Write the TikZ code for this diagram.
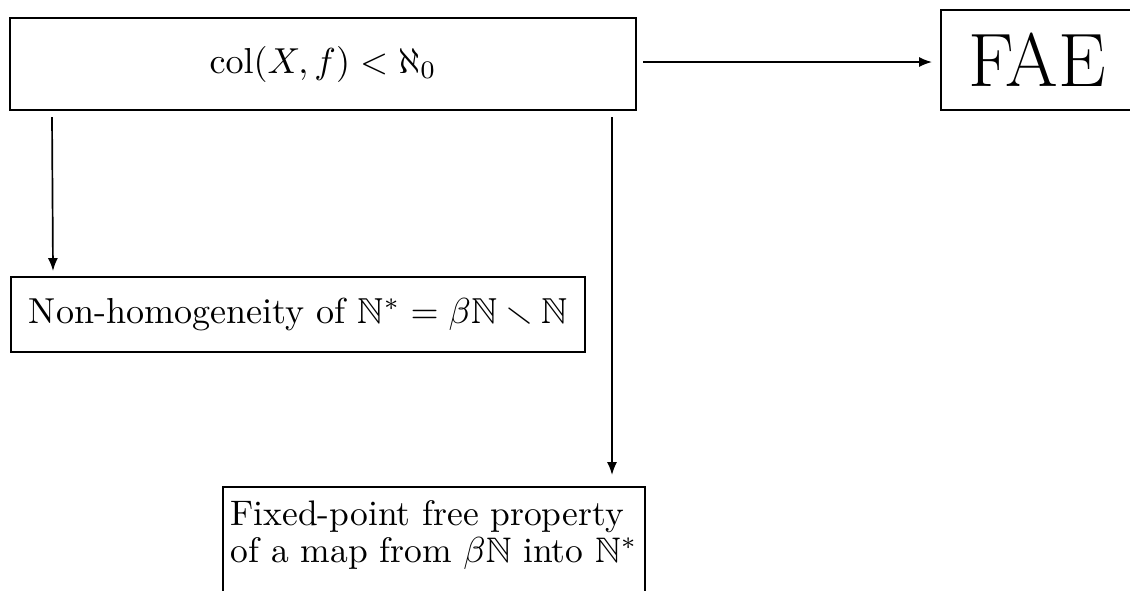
\documentclass[tikz,border=0pt]{standalone}
\usepackage{amssymb}
\usetikzlibrary{arrows.meta,calc}
\begin{document}
\begin{tikzpicture}[x=0.277pt,y=-0.277pt,
  frame/.style={draw, line width=0.55pt},
  arr/.style={-{Latex[length=3.6pt,width=2.8pt]}, line width=0.47pt},
  lbl/.style={font=\fontsize{10}{10.25}\selectfont, inner sep=0pt}]
\useasboundingbox (0,0) rectangle (1130,590);
\fill[white] (0,0) rectangle (1130,590);

% hypothesis box
\node[frame, lbl, minimum width=626*0.277pt, minimum height=92*0.277pt] (col) at (323,64)
  {$\mathrm{col}(X,f)<\aleph_0$};

% FAE box, running off the right edge
\node[frame, anchor=west, inner xsep=27*0.277pt, inner ysep=0pt, minimum height=100*0.277pt,
  text width=220*0.277pt, align=left, font=\fontsize{21}{24}\selectfont] (fae) at (940,60) {FAE};

% consequences
\node[frame, lbl, anchor=west, inner xsep=18*0.277pt, minimum height=75*0.277pt] (nh) at (10,314.5)
  {Non-homogeneity of $\mathbb{N}^*=\beta\mathbb{N}\smallsetminus\mathbb{N}$};

\node[lbl, font=\fontsize{9.83}{10.25}\selectfont, anchor=north west, align=left,
  inner xsep=7*0.277pt, inner ysep=13*0.277pt] (fpf) at (223,487)
  {Fixed-point free property\\ of a map from $\beta\mathbb{N}$ into $\mathbb{N}^*$};
\draw[frame] ($(fpf.south west)+(0,40)$) |- (fpf.north east) -- ($(fpf.south east)+(0,40)$);

% implications
\draw[arr] ($(col.east)+(6,-2)$) -- ($(fae.west)+(-8,2)$);
\draw[arr] ($(col.south west)+(43,6)$) -- ($(nh.north west)+(43,-5)$);
\draw[arr] ($(col.south west)+(603,6)$) -- ($(col.south west |- fpf.north)+(603,-12)$);
\end{tikzpicture}
\end{document}
